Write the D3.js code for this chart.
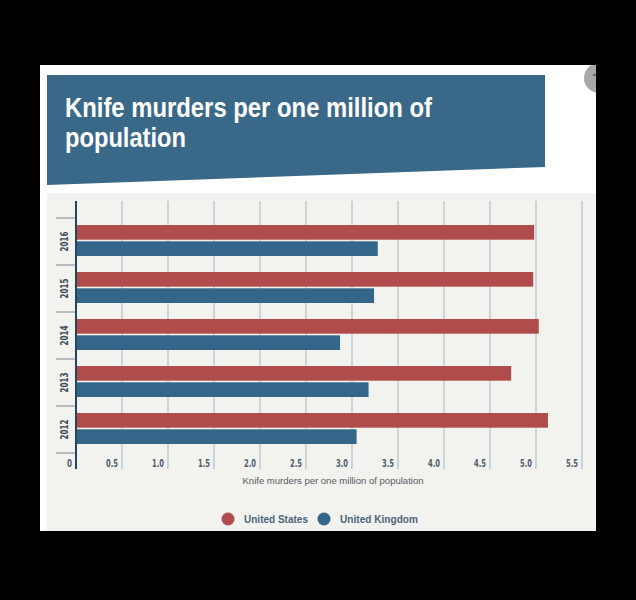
<!DOCTYPE html>
<html><head><meta charset="utf-8">
<script src="https://cdn.jsdelivr.net/npm/d3@7"></script>
<style>html,body{margin:0;padding:0;background:#000;}svg{display:block;}</style>
</head><body>
<script>
const years = ["2016","2015","2014","2013","2012"];
const seriesNames = ["United States","United Kingdom"];
const usValues = [4.98, 4.97, 5.03, 4.73, 5.13];
const ukValues = [3.28, 3.24, 2.87, 3.18, 3.05];
const xTicks = [0,0.5,1,1.5,2,2.5,3,3.5,4,4.5,5,5.5];
const tickLabels = ["0","0.5","1.0","1.5","2.0","2.5","3.0","3.5","4.0","4.5","5.0","5.5"];
const titleLines = ["Knife murders per one million of","population"];
const axisTitle = "Knife murders per one million of population";
const colors = ["#b04c4b","#34668a"];

const W=636,H=600;
const svg=d3.select("body").append("svg").attr("width",W).attr("height",H);
svg.append("rect").attr("width",W).attr("height",H).attr("fill","#000");
// card
svg.append("defs").append("clipPath").attr("id","card").append("rect").attr("x",40).attr("y",65).attr("width",556).attr("height",466);
const card=svg.append("g").attr("clip-path","url(#card)");
card.append("rect").attr("x",40).attr("y",65).attr("width",556).attr("height",466).attr("fill","#ffffff");
card.append("circle").attr("cx",599).attr("cy",78).attr("r",15).attr("fill","#a8a8a8");
card.append("rect").attr("x",593).attr("y",74).attr("width",3).attr("height",2).attr("fill","#666");
// banner
card.append("polygon").attr("points","47,75 545,75 545,167 47,185").attr("fill","#3a6889");
titleLines.forEach((t,i)=>{
  const tx=card.append("text").attr("x",65).attr("y",117+i*30).text(t)
    .attr("fill","#fff").attr("font-family","Liberation Sans, Arial, sans-serif")
    .attr("font-weight","bold").attr("font-size",28);
  if(i===0) tx.attr("textLength",367).attr("lengthAdjust","spacingAndGlyphs");
  else tx.attr("textLength",121).attr("lengthAdjust","spacingAndGlyphs");
});
// chart area
card.append("rect").attr("x",47).attr("y",193).attr("width",549).attr("height",338).attr("fill","#f2f2ef");

const x=d3.scaleLinear().domain([0,5.5]).range([76,582]);
const y=d3.scaleBand().domain(years).range([218,453]).paddingInner(0).paddingOuter(0);
const inner=d3.scaleBand().domain(seriesNames).range([7,y.bandwidth()-9]).paddingInner(0.1);

const g=card.append("g");
// gridlines
g.selectAll("line.grid").data(xTicks.slice(1)).join("line")
  .attr("x1",d=>x(d)).attr("x2",d=>x(d)).attr("y1",201).attr("y2",469)
  .attr("stroke","#b9c3ca").attr("stroke-width",1.3);
// tick labels
const lf="Liberation Sans Narrow, DejaVu Sans Condensed, Arial Narrow, sans-serif";
g.selectAll("text.tick").data(xTicks).join("text")
  .attr("x",d=>x(d)-4).attr("y",467).attr("text-anchor","end")
  .attr("font-family",lf).attr("font-weight","bold").attr("font-size",10)
  .attr("fill","#4f5d6a").text((d,i)=>tickLabels[i])
  .attr("textLength",(d,i)=>tickLabels[i].length>1?12:5).attr("lengthAdjust","spacingAndGlyphs");
// category separators
const seps=years.map(d=>y(d)).concat([y.range()[1]]);
g.selectAll("line.sep").data(seps).join("line")
  .attr("x1",56).attr("x2",76).attr("y1",d=>d).attr("y2",d=>d)
  .attr("stroke","#8f9ba5").attr("stroke-width",1.2);
// bars
const rows=years.map((yr,i)=>({yr,vals:[usValues[i],ukValues[i]]}));
rows.forEach(r=>{
  r.vals.forEach((v,j)=>{
    g.append("rect").attr("x",x(0)).attr("y",y(r.yr)+inner(seriesNames[j]))
      .attr("width",x(v)-x(0)).attr("height",inner.bandwidth()).attr("fill",colors[j]);
  });
});
// axis line
g.append("line").attr("x1",76).attr("x2",76).attr("y1",201).attr("y2",469)
  .attr("stroke","#26445a").attr("stroke-width",2);
// year labels
g.selectAll("text.yr").data(years).join("text")
  .attr("transform",d=>`translate(68,${y(d)+y.bandwidth()/2}) rotate(-90)`)
  .attr("text-anchor","middle").attr("font-family",lf).attr("font-weight","bold")
  .attr("font-size",10).attr("fill","#3d4955").text(d=>d)
  .attr("textLength",20).attr("lengthAdjust","spacingAndGlyphs");
// axis title
g.append("text").attr("x",333).attr("y",484).attr("text-anchor","middle")
  .attr("font-family","Liberation Sans, Arial, sans-serif").attr("font-size",9.6)
  .attr("fill","#555c62").text(axisTitle)
  .attr("textLength",181).attr("lengthAdjust","spacingAndGlyphs");
// legend
const lg=g.append("g");
const legX=[228,324];
const legLen=[64,78];
seriesNames.forEach((n,i)=>{
  lg.append("circle").attr("cx",legX[i]).attr("cy",519).attr("r",6.5).attr("fill",colors[i]);
  lg.append("text").attr("x",legX[i]+16).attr("y",523).text(n)
    .attr("font-family","Liberation Sans, Arial, sans-serif").attr("font-weight","bold")
    .attr("font-size",11).attr("fill","#4d6579")
    .attr("textLength",legLen[i]).attr("lengthAdjust","spacingAndGlyphs");
});
</script>
</body></html>
